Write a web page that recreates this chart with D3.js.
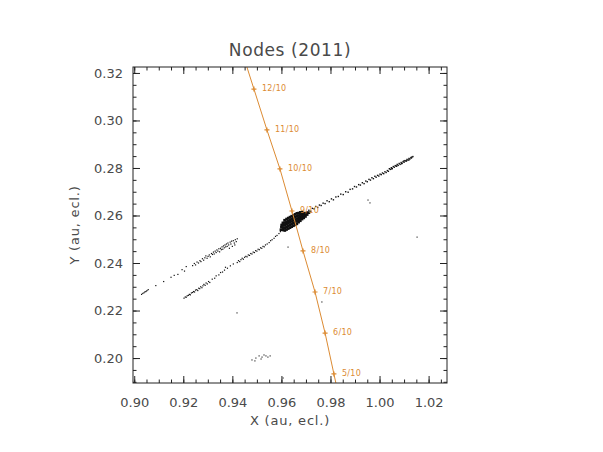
<!DOCTYPE html>
<html>
<head>
<meta charset="utf-8">
<script src="https://cdn.jsdelivr.net/npm/d3@7"></script>
<style>
  body { margin: 0; background: #fff; }
  text { font-family: "DejaVu Sans", sans-serif; fill: #4a4a4a; }
</style>
</head>
<body>
<div id="chart"></div>
<script>
// Size and location of the plot box
var svgWidth = 603;
var svgHeight = 452;
var margin = { top: 67, left: 133 };
var width = 314;
var height = 316;

// axis ranges and ticks
var xDomain = [0.8995, 1.0275];
var yDomain = [0.1895, 0.3225];
var xMajor = [0.90, 0.92, 0.94, 0.96, 0.98, 1.00, 1.02];
var yMajor = [0.20, 0.22, 0.24, 0.26, 0.28, 0.30, 0.32];

// node track (orange line), one point per month
var nodeDates = ["1/11", "12/10", "11/10", "10/10", "9/10", "8/10", "7/10", "6/10", "5/10", "4/10"];
var nodeX = [0.9435, 0.9488, 0.9541, 0.9594, 0.9643, 0.9688, 0.9737, 0.9778, 0.9814, 0.9850];
var nodeY = [0.3304, 0.3132, 0.2960, 0.2796, 0.2619, 0.2451, 0.2278, 0.2105, 0.1933, 0.1761];

// meteoroid stream nodes (black points)
var upperStreak = [
  [0.9030,0.2268],[0.9035,0.2272],[0.9040,0.2275],[0.9044,0.2279],[0.9048,0.2280],[0.9052,0.2284],[0.9057,0.2288],
  [0.9088,0.2305],[0.9120,0.2322],[0.9150,0.2340],[0.9163,0.2348],[0.9178,0.2352],[0.9195,0.2372],[0.9205,0.2366],[0.9212,0.2385],
  [0.9238,0.2389],[0.9245,0.2398],[0.9250,0.2392],[0.9256,0.2404],[0.9262,0.2400],[0.9268,0.2410],[0.9272,0.2406],
  [0.9278,0.2418],[0.9283,0.2412],[0.9288,0.2422],[0.9292,0.2430],[0.9297,0.2420],[0.9301,0.2428],[0.9306,0.2434],
  [0.9310,0.2426],[0.9315,0.2440],[0.9319,0.2436],[0.9323,0.2446],[0.9326,0.2438],[0.9330,0.2450],[0.9334,0.2444],
  [0.9337,0.2455],[0.9341,0.2450],[0.9345,0.2460],[0.9348,0.2447],[0.9352,0.2462],[0.9355,0.2456],[0.9358,0.2468],
  [0.9361,0.2458],[0.9364,0.2472],[0.9367,0.2464],[0.9370,0.2476],[0.9373,0.2468],[0.9376,0.2480],[0.9379,0.2470],
  [0.9382,0.2484],[0.9385,0.2476],[0.9388,0.2462],[0.9391,0.2488],[0.9394,0.2480],[0.9397,0.2492],[0.9400,0.2470],
  [0.9404,0.2494],[0.9408,0.2484],[0.9412,0.2498],[0.9416,0.2490],[0.9420,0.2502],[0.9410,0.2476]
];
var lowerStreak = [
  [0.9203,0.2252],[0.9208,0.2257],[0.9212,0.2256],[0.9216,0.2262],[0.9221,0.2264],[0.9225,0.2268],[0.9229,0.2266],
  [0.9233,0.2274],[0.9238,0.2276],[0.9242,0.2280],[0.9246,0.2278],[0.9250,0.2286],[0.9255,0.2288],[0.9259,0.2284],
  [0.9263,0.2294],[0.9267,0.2292],[0.9271,0.2300],[0.9276,0.2296],[0.9280,0.2304],[0.9284,0.2310],[0.9289,0.2306],
  [0.9293,0.2316],[0.9298,0.2312],[0.9303,0.2322],[0.9308,0.2318],
  [0.9318,0.2332],[0.9328,0.2336],[0.9334,0.2346],[0.9345,0.2350],[0.9352,0.2360],[0.9360,0.2362],[0.9368,0.2370],
  [0.9372,0.2382],[0.9380,0.2378],[0.9392,0.2388],[0.9404,0.2396],
  [0.9420,0.2402],[0.9425,0.2410],[0.9430,0.2406],[0.9435,0.2414],[0.9440,0.2420],[0.9445,0.2416],[0.9450,0.2424],
  [0.9455,0.2428],[0.9460,0.2426],[0.9465,0.2434],[0.9470,0.2432],[0.9475,0.2440],[0.9480,0.2438],[0.9485,0.2446],
  [0.9490,0.2444],[0.9495,0.2452],[0.9500,0.2450],[0.9505,0.2458],[0.9510,0.2456],[0.9515,0.2464],[0.9520,0.2462],
  [0.9525,0.2470],[0.9530,0.2468],[0.9535,0.2476],
  [0.9542,0.2480],[0.9550,0.2486],[0.9556,0.2494],[0.9562,0.2498],[0.9570,0.2504],[0.9576,0.2512],[0.9582,0.2516],
  [0.9590,0.2524],[0.9596,0.2532],[0.9600,0.2540]
];
var nodeCore = [
  [0.9598,0.2540],[0.9600,0.2551],[0.9601,0.2560],
  [0.9607,0.2539],[0.9607,0.2549],[0.9607,0.2559],[0.9606,0.2569],
  [0.9614,0.2537],[0.9614,0.2548],[0.9614,0.2559],[0.9614,0.2570],[0.9613,0.2580],
  [0.9621,0.2541],[0.9621,0.2552],[0.9621,0.2563],[0.9621,0.2574],[0.9621,0.2585],
  [0.9628,0.2545],[0.9628,0.2556],[0.9628,0.2567],[0.9628,0.2578],[0.9628,0.2589],
  [0.9635,0.2549],[0.9635,0.2560],[0.9635,0.2571],[0.9635,0.2582],[0.9635,0.2593],
  [0.9642,0.2553],[0.9642,0.2564],[0.9642,0.2575],[0.9642,0.2586],[0.9642,0.2597],
  [0.9649,0.2557],[0.9649,0.2568],[0.9649,0.2579],[0.9649,0.2590],[0.9649,0.2601],
  [0.9656,0.2561],[0.9656,0.2572],[0.9656,0.2583],[0.9656,0.2594],[0.9656,0.2605],
  [0.9663,0.2565],[0.9663,0.2576],[0.9663,0.2587],[0.9663,0.2598],[0.9663,0.2609],
  [0.9670,0.2572],[0.9670,0.2582],[0.9670,0.2591],[0.9670,0.2600],[0.9670,0.2610],
  [0.9677,0.2578],[0.9677,0.2587],[0.9677,0.2595],[0.9677,0.2604],[0.9677,0.2613],
  [0.9684,0.2585],[0.9684,0.2592],[0.9684,0.2599],[0.9684,0.2606],[0.9684,0.2614],
  [0.9691,0.2590],[0.9691,0.2597],[0.9691,0.2603],[0.9691,0.2610],
  [0.9698,0.2596],[0.9698,0.2603],[0.9698,0.2609],
  [0.9705,0.2604],[0.9705,0.2612],[0.9712,0.2612]
];
var rightStreak = [
  [0.9712,0.2622],[0.9720,0.2618],[0.9726,0.2630],[0.9733,0.2628],[0.9740,0.2638],[0.9748,0.2634],[0.9755,0.2644],
  [0.9762,0.2642],[0.9770,0.2652],[0.9778,0.2650],[0.9786,0.2662],[0.9795,0.2658],[0.9804,0.2670],[0.9812,0.2666],
  [0.9822,0.2678],[0.9832,0.2680],[0.9842,0.2690],[0.9852,0.2688],[0.9862,0.2700],[0.9872,0.2698],[0.9880,0.2710],
  [0.9890,0.2712],[0.9898,0.2722],[0.9906,0.2720],[0.9915,0.2730],[0.9922,0.2728],[0.9930,0.2738],[0.9937,0.2734],
  [0.9944,0.2745],[0.9950,0.2742],[0.9957,0.2752],[0.9963,0.2749],[0.9969,0.2759],[0.9975,0.2755],[0.9981,0.2765],
  [0.9986,0.2761],[0.9992,0.2769],[0.9997,0.2766],[1.0002,0.2774],[1.0007,0.2772],[1.0012,0.2779],[1.0017,0.2776],
  [1.0022,0.2784],[1.0027,0.2781],[1.0032,0.2789],[1.0036,0.2786],
  [1.0040,0.2797],[1.0044,0.2794],[1.0048,0.2801],[1.0052,0.2798],[1.0056,0.2806],[1.0060,0.2803],[1.0064,0.2810],
  [1.0068,0.2807],[1.0072,0.2815],[1.0076,0.2811],[1.0080,0.2819],[1.0084,0.2815],[1.0088,0.2823],[1.0092,0.2820],
  [1.0096,0.2827],[1.0100,0.2824],[1.0104,0.2831],[1.0108,0.2829],[1.0112,0.2836],[1.0116,0.2833],[1.0120,0.2840],
  [1.0124,0.2838],[1.0128,0.2844],[1.0132,0.2846],[1.0136,0.2848],
  [1.0050,0.2796],[1.0070,0.2808],[1.0090,0.2818],[1.0100,0.2830],[1.0110,0.2830],[1.0120,0.2834],[1.0130,0.2842]
];
var southCluster = [
  [0.9480,0.1992],[0.9496,0.2000],[0.9509,0.2009],[0.9521,0.2004],[0.9529,0.2013],
  [0.9537,0.2009],[0.9545,0.2004],[0.9554,0.2009],[0.9492,0.1988],[0.9517,0.1996]
];
var strayPoints = [
  [0.9419,0.2190],[1.0153,0.2509],[0.9765,0.2236],[0.9627,0.2467],[0.9953,0.2665],[0.9961,0.2653],[0.9607,0.1916]
];

var orange = "#dc8b33";

var svg = d3.select("#chart")
  .append("svg")
  .attr("width", svgWidth)
  .attr("height", svgHeight);

var chartGroup = svg.append("g")
  .attr("transform", `translate(${margin.left}, ${margin.top})`);

var xScale = d3.scaleLinear().domain(xDomain).range([0, width]);
var yScale = d3.scaleLinear().domain(yDomain).range([height, 0]);

var xMinor = d3.range(0, 26).map(i => +(0.90 + i * 0.005).toFixed(3));
var yMinor = d3.range(0, 27).map(i => +(0.19 + i * 0.005).toFixed(3));

chartGroup.append("clipPath").attr("id", "plotclip")
  .append("rect").attr("width", width).attr("height", height);

// black points
function drawPoints(list, size) {
  chartGroup.append("g")
    .selectAll("rect")
    .data(list)
    .enter()
    .append("rect")
    .attr("x", d => xScale(d[0]) - size / 2)
    .attr("y", d => yScale(d[1]) - size / 2)
    .attr("width", size)
    .attr("height", size)
    .attr("fill", "#111");
}
drawPoints(upperStreak, 1.2);
drawPoints(lowerStreak, 1.2);
drawPoints(rightStreak, 1.4);
drawPoints(nodeCore, 2.7);
drawPoints(southCluster, 1.1);
drawPoints(strayPoints, 1.1);

// orange node track
var line = d3.line().x((d, i) => xScale(nodeX[i])).y((d, i) => yScale(nodeY[i]));
chartGroup.append("path")
  .datum(nodeDates)
  .attr("clip-path", "url(#plotclip)")
  .attr("d", line)
  .attr("fill", "none")
  .attr("stroke", orange)
  .attr("stroke-width", 1);

var inside = nodeDates.map((d, i) => i)
  .filter(i => nodeY[i] > yDomain[0] && nodeY[i] < yDomain[1]);

var marks = chartGroup.append("g").selectAll("g")
  .data(inside)
  .enter()
  .append("g")
  .attr("transform", i => `translate(${xScale(nodeX[i])}, ${yScale(nodeY[i])})`);

marks.append("path")
  .attr("d", "M-2.5,0H2.5M0,-2.5V2.5")
  .attr("stroke", orange)
  .attr("stroke-width", 1.2);

marks.append("text")
  .attr("x", 8)
  .attr("y", 2)
  .style("font-size", "8px")
  .style("letter-spacing", "0.3px")
  .style("fill", orange)
  .text(i => nodeDates[i]);

// axes: ticks point inward on all four sides
function styleAxis(g) {
  g.select(".domain").remove();
  g.selectAll("line").attr("stroke", "#222");
  g.selectAll("text").style("font-size", "13px").style("fill", "#4a4a4a");
}

chartGroup.append("g")
  .attr("transform", `translate(0, ${height})`)
  .call(d3.axisBottom(xScale).tickValues(xMinor).tickSize(-3.5).tickFormat(""))
  .call(styleAxis);
chartGroup.append("g")
  .attr("transform", `translate(0, ${height})`)
  .call(d3.axisBottom(xScale).tickValues(xMajor).tickSize(-7).tickPadding(15).tickFormat(d3.format(".2f")))
  .call(styleAxis);
chartGroup.append("g")
  .call(d3.axisTop(xScale).tickValues(xMinor).tickSize(-3.5).tickFormat(""))
  .call(styleAxis);
chartGroup.append("g")
  .call(d3.axisTop(xScale).tickValues(xMajor).tickSize(-7).tickFormat(""))
  .call(styleAxis);

chartGroup.append("g")
  .call(d3.axisLeft(yScale).tickValues(yMinor).tickSize(-3.5).tickFormat(""))
  .call(styleAxis);
chartGroup.append("g")
  .call(d3.axisLeft(yScale).tickValues(yMajor).tickSize(-7).tickPadding(10).tickFormat(d3.format(".2f")))
  .call(styleAxis);
chartGroup.append("g")
  .attr("transform", `translate(${width}, 0)`)
  .call(d3.axisRight(yScale).tickValues(yMinor).tickSize(-3.5).tickFormat(""))
  .call(styleAxis);
chartGroup.append("g")
  .attr("transform", `translate(${width}, 0)`)
  .call(d3.axisRight(yScale).tickValues(yMajor).tickSize(-7).tickFormat(""))
  .call(styleAxis);

chartGroup.append("rect")
  .attr("width", width)
  .attr("height", height)
  .attr("fill", "none")
  .attr("stroke", "#222")
  .attr("stroke-width", 1);

// titles
svg.append("text")
  .attr("x", margin.left + width / 2)
  .attr("y", 56)
  .attr("text-anchor", "middle")
  .style("font-size", "17px")
  .style("letter-spacing", "0.6px")
  .text("Nodes (2011)");

svg.append("text")
  .attr("x", margin.left + width / 2)
  .attr("y", 425)
  .attr("text-anchor", "middle")
  .style("font-size", "13px")
  .style("letter-spacing", "0.8px")
  .text("X (au, ecl.)");

svg.append("text")
  .attr("transform", `translate(79, ${margin.top + height / 2}) rotate(-90)`)
  .attr("text-anchor", "middle")
  .style("font-size", "13px")
  .style("letter-spacing", "0.8px")
  .text("Y (au, ecl.)");
</script>
</body>
</html>
